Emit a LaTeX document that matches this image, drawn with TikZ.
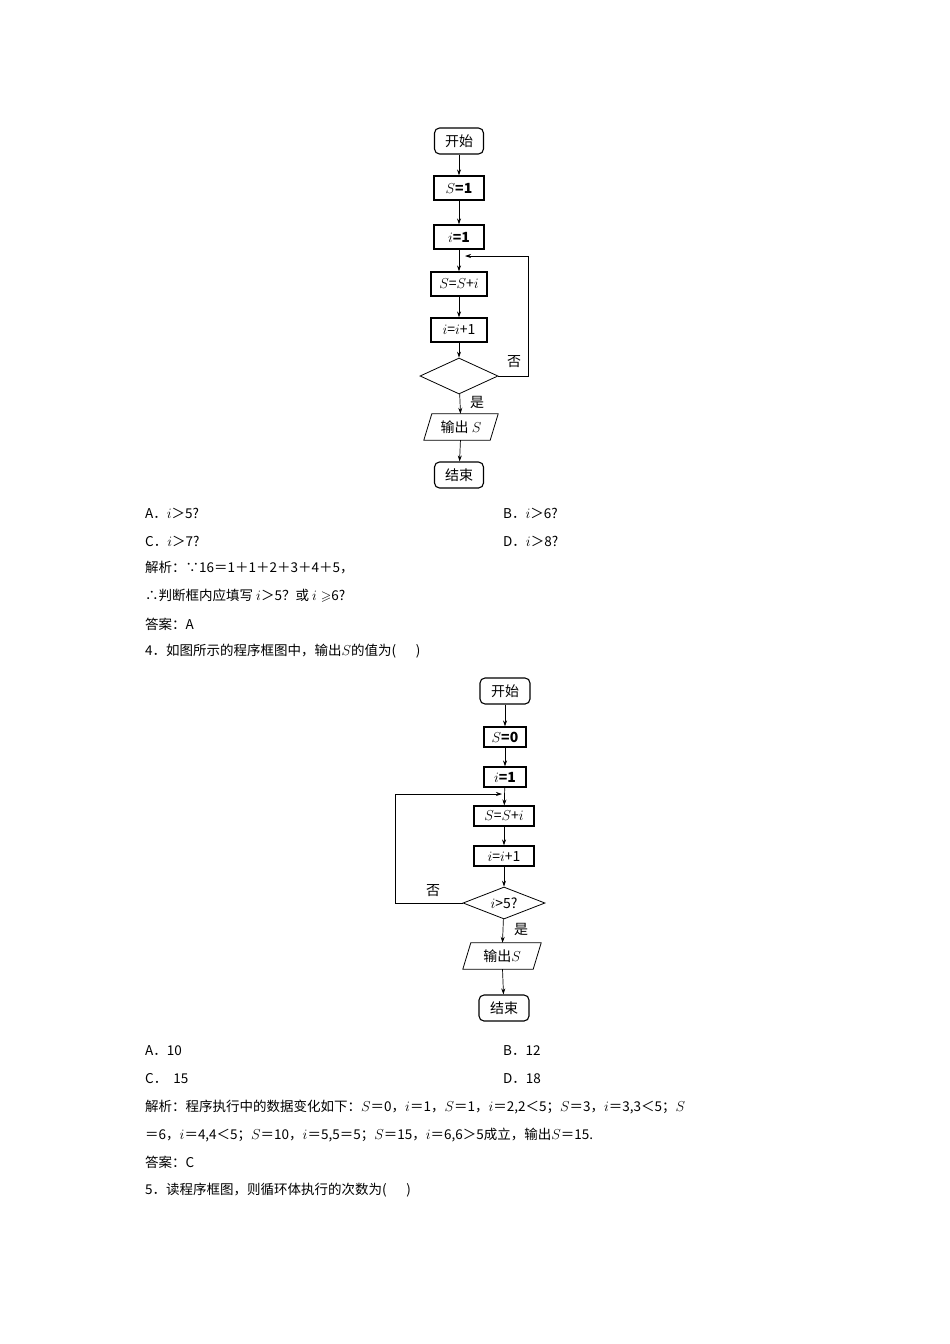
\documentclass[tikz,border=0pt]{standalone}
\usepackage{amssymb}
\usepackage{fontspec}
\newfontfamily\cjk{Noto Sans CJK SC}
\usetikzlibrary{shapes.geometric,arrows.meta}
\begin{document}
\begin{tikzpicture}[x=1pt,y=-1pt,
  every node/.style={inner sep=0pt,font=\cjk\fontsize{14}{16}\selectfont},
  term/.style={draw,line width=1.1pt,rounded corners=5pt,minimum width=49pt,minimum height=26pt},
  proc/.style={draw,line width=1.1pt,minimum height=24pt},
  procb/.style={draw,line width=1.1pt,minimum height=20pt},
  dec/.style={draw,line width=0.8pt,diamond,aspect=2.2},
  io/.style={minimum height=26pt},
  para/.style={line width=0.8pt},
  arr/.style={-{Stealth[length=6pt,width=4pt]},line width=0.7pt},
  txt/.style={anchor=west,font=\cjk\fontsize{13.5}{16}\selectfont}]
\useasboundingbox (0,0) rectangle (950,1344);
% chart 1
\node[term] (a1) at (459,141) {开始};
\node[proc,minimum width=50pt] (a2) at (459,188) {\bfseries$S$=1};
\node[proc,minimum width=50pt] (a3) at (459,237) {\bfseries$i$=1};
\node[proc,minimum width=56pt] (a4) at (459,284) {$S$=$S$+$i$};
\node[proc,minimum width=56pt] (a5) at (459,330) {$i$=$i$+1};
\node[dec,minimum width=78pt,minimum height=36pt] (a6) at (459,376) {};
\node[io,minimum width=66pt] (a7) at (461,427) {输出 $S$};
\draw[para] ([xshift=-4pt]a7.south west) -- ([xshift=4pt]a7.north west) -- ([xshift=4pt]a7.north east) -- ([xshift=-4pt]a7.south east) -- cycle;
\node[term] (a8) at (459,475) {结束};
\draw[arr] (a1)--(a2); \draw[arr] (a2)--(a3); \draw[arr] (a3)--(a4);
\draw[arr] (a4)--(a5); \draw[arr] (a5)--(a6); \draw[arr] (a6)--(a7); \draw[arr] (a7)--(a8);
\coordinate (m1) at (459,256);
\draw[arr] (a6.east) -- (528,376) -- (528,256) -- ([xshift=6pt]m1);
\node at (514,362) {否};
\node at (477,402) {是};
% texts 1
\node[txt] (t1) at (145,513) {A．$i$＞5?};
\node[txt] (t2) at (503,513) {B．$i$＞6?};
\node[txt] (t3) at (145,541) {C．$i$＞7?};
\node[txt] (t4) at (503,541) {D．$i$＞8?};
\node[txt] (t5) at (145,568) {解析：∵16＝1＋1＋2＋3＋4＋5，};
\node[txt] (t6) at (145,596) {∴判断框内应填写 $i$＞5？或 $i\geqslant$6?};
\node[txt] (t7) at (145,624) {答案：A};
\node[txt] (t8) at (145,651) {4．如图所示的程序框图中，输出$S$的值为(\quad\ \ )};
% chart 2
\node[term,minimum width=50pt] (b1) at (505,691) {开始};
\node[procb,minimum width=42pt] (b2) at (505,737) {\bfseries$S$=0};
\node[procb,minimum width=42pt] (b3) at (505,777) {\bfseries$i$=1};
\node[procb,minimum width=60pt] (b4) at (504,816) {$S$=$S$+$i$};
\node[procb,minimum width=60pt] (b5) at (504,856) {$i$=$i$+1};
\node[dec,minimum width=82pt,minimum height=32pt] (b6) at (504,903) {$i$>5?};
\node[io,minimum width=70pt] (b7) at (502,956) {输出$S$};
\draw[para] ([xshift=-4pt]b7.south west) -- ([xshift=4pt]b7.north west) -- ([xshift=4pt]b7.north east) -- ([xshift=-4pt]b7.south east) -- cycle;
\node[term,minimum width=50pt] (b8) at (504,1008) {结束};
\draw[arr] (b1)--(b2); \draw[arr] (b2)--(b3); \draw[arr] (b3)--(b4);
\draw[arr] (b4)--(b5); \draw[arr] (b5)--(b6); \draw[arr] (b6)--(b7); \draw[arr] (b7)--(b8);
\coordinate (m2) at (504,794);
\draw[arr] (b6.west) -- (395,903) -- (395,794) -- ([xshift=-2pt]m2);
\node at (433,891) {否};
\node at (521,929) {是};
% texts 2
\node[txt] (u1) at (145,1051) {A．10};
\node[txt] (u2) at (503,1051) {B．12};
\node[txt] (u3) at (145,1079) {C．\ \ 15};
\node[txt] (u4) at (503,1079) {D．18};
\node[txt] (u5) at (145,1107) {解析：程序执行中的数据变化如下：$S$＝0，$i$＝1，$S$＝1，$i$＝2,2＜5；$S$＝3，$i$＝3,3＜5；$S$};
\node[txt] (u6) at (145,1135) {＝6，$i$＝4,4＜5；$S$＝10，$i$＝5,5＝5；$S$＝15，$i$＝6,6＞5成立，输出$S$＝15.};
\node[txt] (u7) at (145,1162) {答案：C};
\node[txt] (u8) at (145,1190) {5．读程序框图，则循环体执行的次数为(\quad\ \ )};
\end{tikzpicture}
\end{document}
